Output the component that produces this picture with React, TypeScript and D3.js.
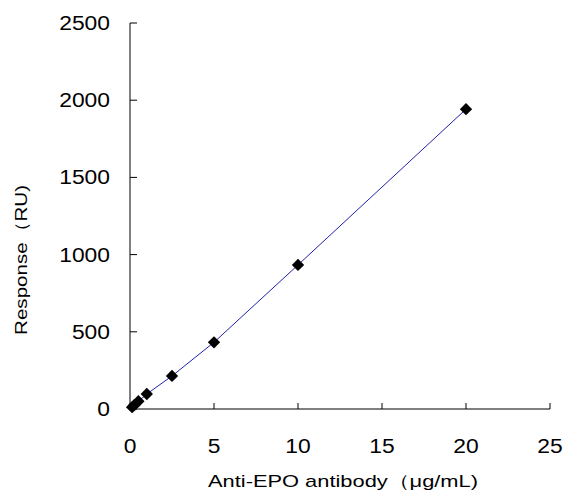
import React from "react";
import * as d3 from "d3";

const concentrations = [0.125, 0.25, 0.5, 1, 2.5, 5, 10, 20];
const responses = [12, 25, 50, 97, 214, 432, 933, 1942];
const xTicks = [0, 5, 10, 15, 20, 25];
const yTicks = [0, 500, 1000, 1500, 2000, 2500];
const xTitle = "Anti-EPO antibody（μg/mL)";
const yTitle = "Response（RU)";

const W = 563;
const H = 491;
const font = "'Liberation Sans', Arial, sans-serif";

export default function App() {
  const x = d3.scaleLinear().domain([0, 25]).range([130, 550]);
  const y = d3.scaleLinear().domain([0, 2500]).range([409, 23]);
  const pts = concentrations.map((c, i) => [x(c), y(responses[i])] as [number, number]);
  const line = d3.line()(pts) || "";
  const diamond = d3.symbol().type(d3.symbolSquare).size(76)() || "";

  return (
    <svg
      width={W}
      height={H}
      style={{ position: "absolute", left: 0, top: 0, background: "#fff" }}
    >
      <rect x={0} y={0} width={W} height={H} fill="#fff" />
      {/* axes */}
      <line x1={x(0)} x2={x(0)} y1={y(0)} y2={y(2500)} stroke="#000" strokeWidth={1} />
      <line x1={x(0)} x2={x(25)} y1={y(0)} y2={y(0)} stroke="#000" strokeWidth={1} />
      {yTicks.map((t) => (
        <g key={"y" + t}>
          <line x1={x(0)} x2={x(0) + 7} y1={y(t)} y2={y(t)} stroke="#000" />
          <text
            x={110}
            y={y(t) + 7}
            textAnchor="end"
            fontFamily={font}
            fontSize={20}
            textLength={String(t).length * 12.7}
            lengthAdjust="spacingAndGlyphs"
          >
            {t}
          </text>
        </g>
      ))}
      {xTicks.map((t) => (
        <g key={"x" + t}>
          <line x1={x(t)} x2={x(t)} y1={y(0)} y2={y(0) - 6} stroke="#000" />
          <text
            x={x(t)}
            y={453}
            textAnchor="middle"
            fontFamily={font}
            fontSize={20}
            textLength={String(t).length * 12.7}
            lengthAdjust="spacingAndGlyphs"
          >
            {t}
          </text>
        </g>
      ))}
      {/* series */}
      <path d={line} fill="none" stroke="#2222aa" strokeWidth={1} />
      {pts.map((p, i) => (
        <path
          key={i}
          d={diamond}
          transform={`translate(${p[0]},${p[1]}) rotate(45)`}
          fill="#000"
        />
      ))}
      {/* titles */}
      <text
        x={343}
        y={487}
        textAnchor="middle"
        fontFamily={font}
        fontSize={17}
        textLength={270}
        lengthAdjust="spacingAndGlyphs"
      >
        {xTitle}
      </text>
      <text
        transform={`translate(27,260) rotate(-90)`}
        textAnchor="middle"
        fontFamily={font}
        fontSize={17}
        textLength={150}
        lengthAdjust="spacingAndGlyphs"
      >
        {yTitle}
      </text>
    </svg>
  );
}
